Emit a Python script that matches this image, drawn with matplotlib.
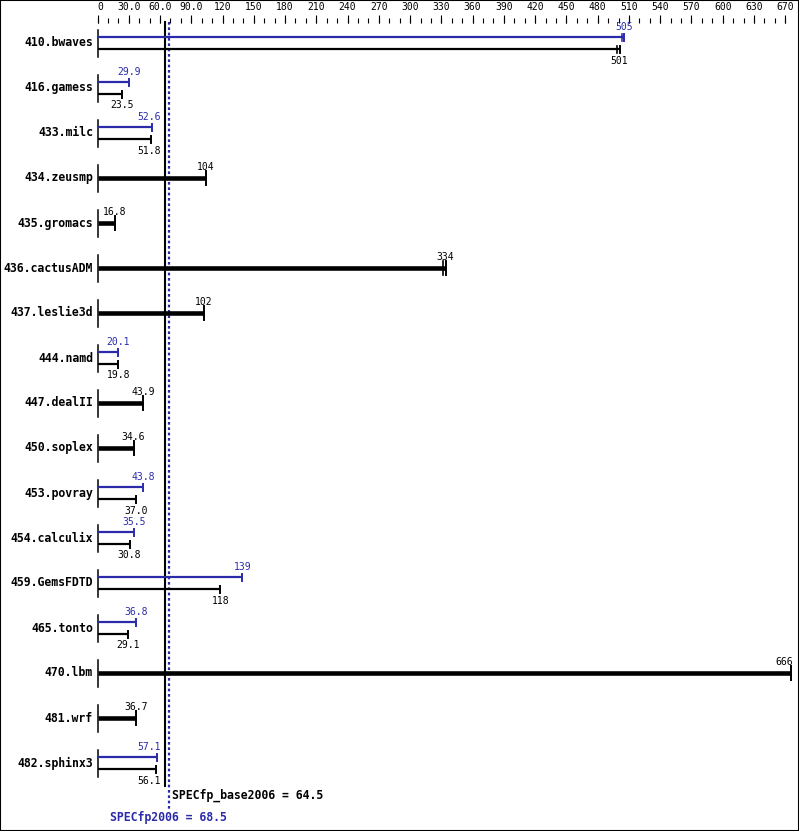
import matplotlib
matplotlib.use("Agg")
import matplotlib.pyplot as plt
import numpy as np

benchmarks = ['410.bwaves', '416.gamess', '433.milc', '434.zeusmp', '435.gromacs',
              '436.cactusADM', '437.leslie3d', '444.namd', '447.dealII', '450.soplex',
              '453.povray', '454.calculix', '459.GemsFDTD', '465.tonto', '470.lbm',
              '481.wrf', '482.sphinx3']
# base ratio (black) and peak ratio (blue); None = peak same as base (single thick bar)
base = [501, 23.5, 51.8, 104, 16.8, 334, 102, 19.8, 43.9, 34.6,
        37.0, 30.8, 118, 29.1, 666, 36.7, 56.1]
peak = [505, 29.9, 52.6, None, None, None, None, 20.1, None, None,
        43.8, 35.5, 139, 36.8, None, None, 57.1]
# other run results showing as a second end tick
base_other = {'410.bwaves': 499, '436.cactusADM': 332}
peak_other = {'410.bwaves': 503}

tick_labels = ['0', '30.0', '60.0', '90.0', '120', '150', '180', '210', '240', '270',
               '300', '330', '360', '390', '420', '450', '480', '510', '540', '570',
               '600', '630', '670']

spec_base = 64.5
spec_peak = 68.5

BLUE = '#2b2baa'
W, H = 799, 831
X0 = 97.5      # pixel of value 0
SCALE = 1.042  # pixels per unit

fig = plt.figure(figsize=(W / 100, H / 100), dpi=100)
ax = fig.add_axes([0, 0, 1, 1])
ax.set_xlim(-X0 / SCALE, (W - X0) / SCALE)
ax.set_ylim(H, 0)
ax.set_xticks([])
ax.set_yticks([])
for s in ax.spines.values():
    s.set_linewidth(1.5)
    s.set_color('black')

mono = 'DejaVu Sans Mono'
px = 1 / SCALE  # one pixel in data units


def fmt(v):
    return '%d' % round(v) if v >= 100 else '%.1f' % v


def label_x(v, txt):
    half = len(txt) * 2.95 * px
    x = min(max(v, 2 * px + half), (W - 6 - X0) / SCALE - half)
    # keep clear of the base reference line
    lo, hi = x - half, x + half
    if hi > spec_base - 4 * px and lo < spec_peak + 4 * px:
        x = spec_base - 4 * px - half
    return x


# top scale
majors = np.arange(0, 661, 30)
minors = np.arange(0, 661, 10)
ax.vlines(minors, 18, 23, color='black', lw=0.8)
ax.vlines(majors, 14.5, 23, color='black', lw=0.8)
for t, lab in zip(majors, tick_labels):
    x = t if t > 0 else 2.5 * px
    ax.text(x, 7.5, lab, ha='center', va='center', fontsize=7, family=mono)

# reference lines
ax.plot([spec_base, spec_base], [22, 786], color='black', lw=1.5)
ax.plot([spec_peak, spec_peak], [22, 809], color=BLUE, lw=1.6, ls=(0, (1.2, 1.2)))
ax.text(spec_peak + 3 * px, 795, 'SPECfp_base2006 = %.1f' % spec_base, ha='left', va='center',
        fontsize=8.3, family=mono, fontweight='bold', color='black')
ax.text(12 * px, 817, 'SPECfp2006 = %.1f' % spec_peak, ha='left', va='center',
        fontsize=8.3, family=mono, fontweight='bold', color=BLUE)

for i, (name, b, p) in enumerate(zip(benchmarks, base, peak)):
    c = 43 + 45 * i
    ax.text(-4.5 * px, c, name, ha='right', va='center', fontsize=8.3,
            family=mono, fontweight='bold')
    ax.plot([0, 0], [c - 13.5, c + 14], color='black', lw=1.1)
    if p is None:
        ax.plot([0, b], [c, c], color='black', lw=3.3, solid_capstyle='butt')
        ax.plot([b, b], [c - 7, c + 7], color='black', lw=1.4)
        if name in base_other:
            o = base_other[name]
            ax.plot([o, o], [c - 7, c + 7], color='black', lw=1.2)
        t = fmt(b)
        ax.text(label_x(b, t), c - 11, t, ha='center', va='center', fontsize=7,
                family=mono, zorder=5)
    else:
        yp, yb = c - 6, c + 6
        ax.plot([0, p], [yp, yp], color=BLUE, lw=1.6, solid_capstyle='butt')
        ax.plot([p, p], [yp - 3.5, yp + 3.5], color=BLUE, lw=1.4)
        ax.plot([0, b], [yb, yb], color='black', lw=1.6, solid_capstyle='butt')
        ax.plot([b, b], [yb - 3.5, yb + 3.5], color='black', lw=1.4)
        if name in peak_other:
            o = peak_other[name]
            ax.plot([o, o], [yp - 3.5, yp + 3.5], color=BLUE, lw=1.2)
        if name in base_other:
            o = base_other[name]
            ax.plot([o, o], [yb - 3.5, yb + 3.5], color='black', lw=1.2)
        tp, tb = fmt(p), fmt(b)
        ax.text(label_x(p, tp), c - 16, tp, ha='center', va='center', fontsize=7,
                family=mono, color=BLUE, zorder=5)
        ax.text(label_x(b, tb), c + 17.5, tb, ha='center', va='center', fontsize=7,
                family=mono, color='black', zorder=5)

fig.savefig('out.png', dpi=100)
